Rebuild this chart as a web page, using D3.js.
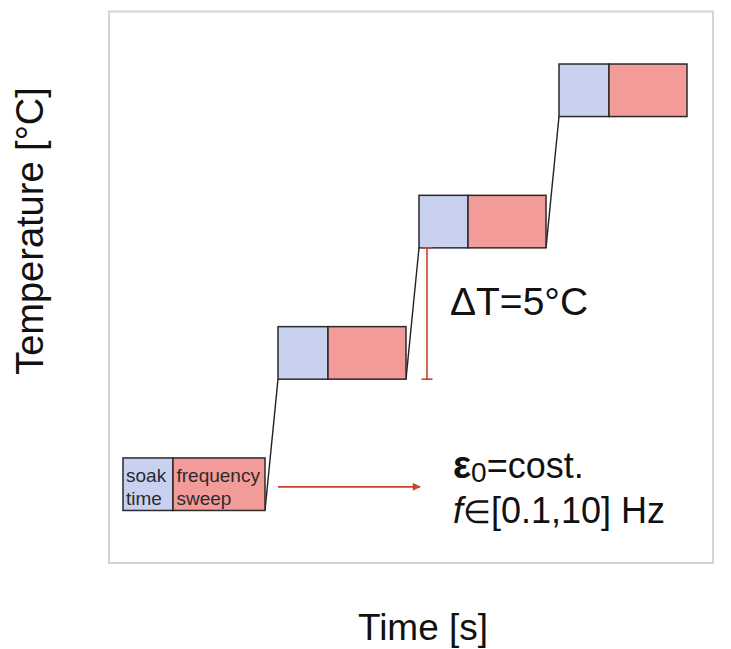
<!DOCTYPE html>
<html>
<head>
<meta charset="utf-8">
<script src="https://cdn.jsdelivr.net/npm/d3@7"></script>
<style>
  html, body { margin: 0; padding: 0; background: #fff; }
  svg { display: block; font-family: "Liberation Sans", Arial, Helvetica, sans-serif; }
</style>
</head>
<body>
<svg id="chart" width="731" height="649"></svg>
<script>
// Isothermal step programme: each temperature level is held for a soak time,
// then a frequency sweep is run before ramping to the next level.
const temps      = [20, 25, 30, 35];     // °C, hold temperature of each step
const stepStart  = [0, 155, 296, 436];   // s, start of each hold
const soakDur    = [50, 50, 49, 50];     // s, soak time
const sweepDur   = [92, 78, 78, 78];     // s, frequency sweep duration
const bandHeight = 2;                    // °C, drawn thickness of a hold block
const deltaT     = 5;                    // °C, increment between steps

const blockLabels = { soak: ["soak", "time"], sweep: ["frequency", "sweep"] };

const svg = d3.select("#chart");

const x = d3.scaleLinear().domain([-14, 590]).range([109, 713]);
const y = d3.scaleLinear().domain([18, 39]).range([563, 11.5]);

// plot frame
svg.append("rect")
  .attr("x", x(-14)).attr("y", y(39))
  .attr("width", x(590) - x(-14)).attr("height", y(18) - y(39))
  .attr("fill", "none").attr("stroke", "#d4d4d4").attr("stroke-width", 2);

// ramps between holds
const ramps = d3.range(temps.length - 1).map(i => [
  [stepStart[i] + soakDur[i] + sweepDur[i], temps[i]],
  [stepStart[i + 1], temps[i + 1]]
]);
svg.append("g").selectAll("line").data(ramps).join("line")
  .attr("x1", d => x(d[0][0])).attr("y1", d => y(d[0][1]))
  .attr("x2", d => x(d[1][0])).attr("y2", d => y(d[1][1]))
  .attr("stroke", "#222").attr("stroke-width", 1.4);

// hold blocks
const blocks = temps.map((t, i) => ({ i, t, s0: stepStart[i], s1: stepStart[i] + soakDur[i], s2: stepStart[i] + soakDur[i] + sweepDur[i] }));
const g = svg.append("g");
g.selectAll("rect.soak").data(blocks).join("rect").attr("class", "soak")
  .attr("x", d => x(d.s0)).attr("y", d => y(d.t + bandHeight))
  .attr("width", d => x(d.s1) - x(d.s0)).attr("height", d => y(d.t) - y(d.t + bandHeight))
  .attr("fill", "#c9d1f1").attr("stroke", "#2a2a2a").attr("stroke-width", 1.5);
g.selectAll("rect.sweep").data(blocks).join("rect").attr("class", "sweep")
  .attr("x", d => x(d.s1)).attr("y", d => y(d.t + bandHeight))
  .attr("width", d => x(d.s2) - x(d.s1)).attr("height", d => y(d.t) - y(d.t + bandHeight))
  .attr("fill", "#f39b99").attr("stroke", "#2a2a2a").attr("stroke-width", 1.5);

// labels inside the first block
const b0 = blocks[0];
const lab = svg.append("g").attr("font-size", 19).attr("fill", "#2b2b2b");
blockLabels.soak.forEach((s, k) => lab.append("text")
  .attr("x", x(b0.s0) + 3).attr("y", y(b0.t + bandHeight) + 24 + k * 23).text(s));
blockLabels.sweep.forEach((s, k) => lab.append("text")
  .attr("x", x(b0.s1) + 3.5).attr("y", y(b0.t + bandHeight) + 24 + k * 23).text(s));

// ΔT bracket between the 2nd and 3rd holds
const red = "#c9432f";
const bx = x(304);
const br = svg.append("g").attr("stroke", red).attr("stroke-width", 1.6);
br.append("line").attr("x1", bx).attr("x2", bx).attr("y1", y(temps[1] + deltaT)).attr("y2", y(temps[1]));
[temps[1], temps[1] + deltaT].forEach(t => br.append("line")
  .attr("x1", bx - 5.5).attr("x2", bx + 5.5).attr("y1", y(t)).attr("y2", y(t)));
svg.append("text").attr("x", bx + 23).attr("y", 315)
  .attr("font-size", 39).attr("fill", "#111").text(`ΔT=${deltaT}°C`);

// arrow pointing to the test conditions
const ay = y(20.9);
svg.append("defs").append("marker").attr("id", "head")
  .attr("viewBox", "0 0 10 10").attr("refX", 9).attr("refY", 5)
  .attr("markerWidth", 11).attr("markerHeight", 8).attr("markerUnits", "userSpaceOnUse")
  .attr("orient", "auto")
  .append("path").attr("d", "M0,0L10,5L0,10Z").attr("fill", red);
svg.append("line").attr("x1", x(155)).attr("x2", x(297)).attr("y1", ay).attr("y2", ay)
  .attr("stroke", red).attr("stroke-width", 1.6).attr("marker-end", "url(#head)");

const cond = svg.append("g").attr("font-size", 36).attr("fill", "#111");
const t1 = cond.append("text").attr("x", 453).attr("y", 478);
t1.append("tspan").attr("font-weight", "bold").attr("font-size", 38).text("ε");
t1.append("tspan").attr("font-size", 28).attr("dy", 4).text("0");
t1.append("tspan").attr("dy", -4).text("=cost.");
const t2 = cond.append("text").attr("x", 453).attr("y", 523);
t2.append("tspan").attr("font-style", "italic").text("f");
t2.append("tspan").attr("font-size", 32).text("∈");
t2.append("tspan").text("[0.1,10] Hz");

// axis titles
svg.append("text").attr("x", 423).attr("y", 640).attr("text-anchor", "middle")
  .attr("font-size", 37).attr("fill", "#111").text("Time [s]");
svg.append("text").attr("transform", "translate(43,231) rotate(-90)")
  .attr("text-anchor", "middle").attr("font-size", 38).attr("fill", "#111")
  .text("Temperature [°C]");
</script>
</body>
</html>
